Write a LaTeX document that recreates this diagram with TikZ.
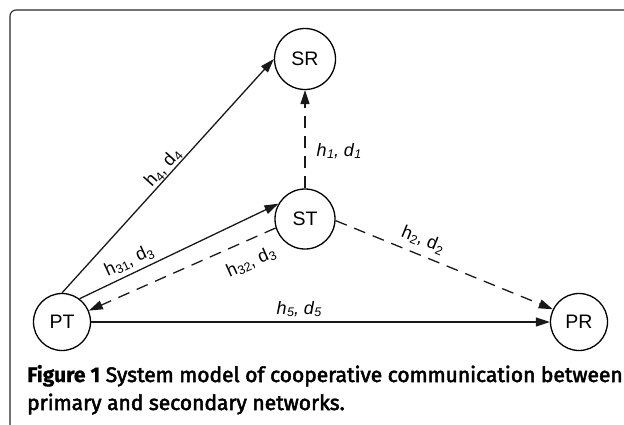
\documentclass[tikz,border=0pt]{standalone}
\usepackage{fontspec}
\setmainfont{Liberation Sans}
\newfontfamily\capfont{Fira Sans}
\usetikzlibrary{arrows.meta}
\newcommand\sbs[1]{\kern0.3pt\raisebox{-0.3ex}{\fontsize{12.5}{12.5}\selectfont #1}}
\begin{document}
\begin{tikzpicture}[x=1pt,y=-1pt,
  station/.style={draw,circle,line width=1.3pt,minimum size=#1,inner sep=0pt,
    font=\fontsize{19.5}{19.5}\selectfont},
  link/.style={line width=1.3pt,black!90,-{Triangle[length=14pt,width=9pt]}},
  dlink/.style={link,dash pattern=on 12pt off 8pt},
  lbl/.style={font=\fontsize{18}{18}\selectfont,inner sep=1pt}]
\useasboundingbox (0,0) rectangle (624,424);
\draw[line width=1.1pt,black!85,rounded corners=6pt] (10,440) -- (10,10) -- (640,10);
\node[station=61pt] (SR) at (305,59) {SR};
\node[station=60pt] (ST) at (305,219) {ST};
\node[station=57pt] (PT) at (62,322) {PT};
\node[station=57pt] (PR) at (579,322) {PR};
\draw[link] (PT.north) -- (SR.west);
\draw[link] (PT.53) -- (ST.150);
\draw[dlink] (ST.197) -- (PT.23);
\draw[dlink] (ST.north) -- (SR.south);
\draw[dlink] (ST.-3) -- (PR.154);
\draw[link] (PT.east) -- (PR.west);
\node[lbl,rotate=48] (l4) at (163,168) {h\sbs{4}, d\sbs{4}};
\node[lbl] (l1) at (339,151) {\itshape h\sbs{1}, d\sbs{1}};
\node[lbl,rotate=25] (l31) at (129,261) {h\sbs{31}, d\sbs{3}};
\node[lbl,rotate=24] (l32) at (251,262) {h\sbs{32}, d\sbs{3}};
\node[lbl,rotate=-22] (l2) at (423,240) {h\sbs{2}, d\sbs{2}};
\node[lbl] (l5) at (299,309) {\itshape h\sbs{5}, d\sbs{5}};
\node[anchor=base west,inner sep=0pt,font=\capfont\fontsize{21}{21}\selectfont] (cap1) at (27,382)
  {{\addfontfeatures{FakeBold=1}\bfseries Figure 1} {\addfontfeatures{FakeBold=2.5}System model of cooperative communication between}};
\node[anchor=base west,inner sep=0pt,font=\capfont\fontsize{21}{21}\selectfont] (cap2) at (27,410)
  {{\addfontfeatures{FakeBold=2.5}primary and secondary networks.}};
\end{tikzpicture}
\end{document}
